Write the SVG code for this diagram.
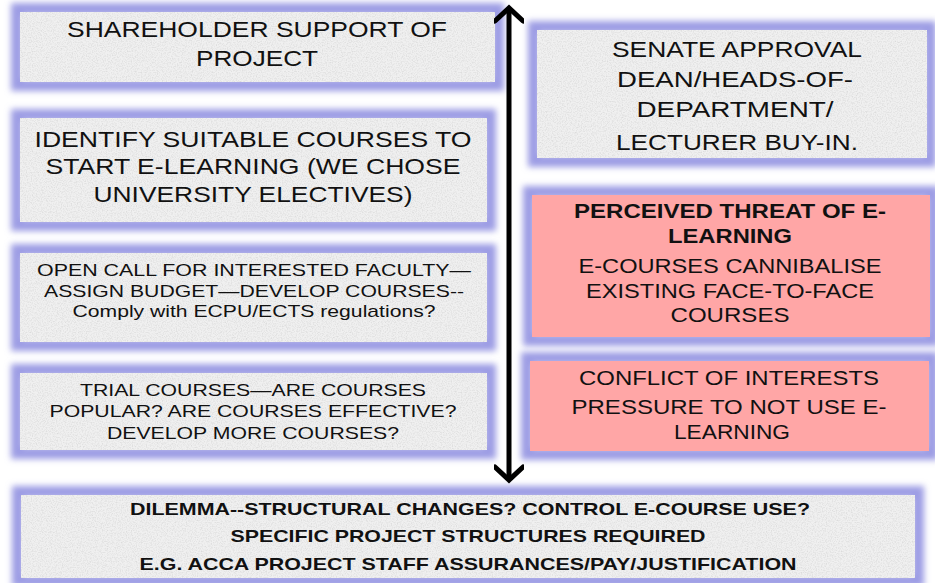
<svg xmlns="http://www.w3.org/2000/svg" width="935" height="583" viewBox="0 0 935 583">
<defs>
<filter id="glow" x="-10%" y="-30%" width="120%" height="160%">
<feGaussianBlur stdDeviation="3"/>
</filter>
<filter id="speckle" x="0" y="0" width="100%" height="100%">
<feTurbulence type="fractalNoise" baseFrequency="0.8" numOctaves="2" seed="3" result="n"/>
<feColorMatrix in="n" type="matrix" values="0 0 0 0 0.6  0 0 0 0 0.6  0 0 0 0 0.6  0 0 0 -2.2 1.3" result="m"/>
<feComposite in="m" in2="SourceGraphic" operator="in"/>
</filter>
<marker id="chev" viewBox="0 0 30 30" refX="24" refY="15" markerWidth="30" markerHeight="30" markerUnits="userSpaceOnUse" orient="auto-start-reverse">
<path d="M11,1 L24,15 L11,29" fill="none" stroke="#000" stroke-width="5" stroke-linejoin="miter" stroke-linecap="round"/>
</marker>
</defs>
<style>
.glow{fill:none;stroke:#9c9ce4;stroke-width:12;filter:url(#glow)}
.grey{fill:#f0f0f0}
.pink{fill:#ffa6a6}
.tex{fill:#fff;filter:url(#speckle);opacity:0.55}
text{font-family:"Liberation Sans",Arial,sans-serif;fill:#111;text-anchor:middle}
.big{font-size:22px}
.mid{font-size:20px}
.sm{font-size:17px}
.b{font-weight:bold}
.bot{font-size:17px;font-weight:bold}
</style>
<rect width="935" height="583" fill="#fff"/>

<g id="shareholder">
<rect class="glow" x="17" y="9" width="481" height="76"/>
<rect class="grey" x="20" y="12" width="475" height="70"/>
<rect class="tex" x="20" y="12" width="475" height="70"/>
<text class="big" x="257" y="37" textLength="380" lengthAdjust="spacingAndGlyphs">SHAREHOLDER SUPPORT OF</text>
<text class="big" x="257" y="66" textLength="122" lengthAdjust="spacingAndGlyphs">PROJECT</text>
</g>

<g id="identify">
<rect class="glow" x="17" y="115" width="473" height="110"/>
<rect class="grey" x="20" y="118" width="467" height="104"/>
<rect class="tex" x="20" y="118" width="467" height="104"/>
<text class="big" x="253" y="147" textLength="437" lengthAdjust="spacingAndGlyphs">IDENTIFY SUITABLE COURSES TO</text>
<text class="big" x="253" y="174" textLength="415" lengthAdjust="spacingAndGlyphs">START E-LEARNING (WE CHOSE</text>
<text class="big" x="253" y="202" textLength="319" lengthAdjust="spacingAndGlyphs">UNIVERSITY ELECTIVES)</text>
</g>

<g id="opencall">
<rect class="glow" x="17" y="250" width="473" height="95"/>
<rect class="grey" x="20" y="253" width="467" height="89"/>
<rect class="tex" x="20" y="253" width="467" height="89"/>
<text class="sm" x="254" y="276" textLength="434" lengthAdjust="spacingAndGlyphs">OPEN CALL FOR INTERESTED FACULTY—</text>
<text class="sm" x="254" y="297" textLength="420" lengthAdjust="spacingAndGlyphs">ASSIGN BUDGET—DEVELOP COURSES--</text>
<text class="sm" x="254" y="317" textLength="363" lengthAdjust="spacingAndGlyphs">Comply with ECPU/ECTS regulations?</text>
</g>

<g id="trial">
<rect class="glow" x="17" y="370" width="473" height="83"/>
<rect class="grey" x="20" y="373" width="467" height="77"/>
<rect class="tex" x="20" y="373" width="467" height="77"/>
<text class="sm" x="253" y="396" textLength="346" lengthAdjust="spacingAndGlyphs">TRIAL COURSES—ARE COURSES</text>
<text class="sm" x="253" y="417" textLength="407" lengthAdjust="spacingAndGlyphs">POPULAR? ARE COURSES EFFECTIVE?</text>
<text class="sm" x="253" y="439" textLength="292" lengthAdjust="spacingAndGlyphs">DEVELOP MORE COURSES?</text>
</g>

<g id="senate">
<rect class="glow" x="534" y="27" width="396" height="134"/>
<rect class="grey" x="537" y="30" width="390" height="128"/>
<rect class="tex" x="537" y="30" width="390" height="128"/>
<text class="big" x="737" y="57" textLength="250" lengthAdjust="spacingAndGlyphs">SENATE APPROVAL</text>
<text class="big" x="735" y="87" textLength="236" lengthAdjust="spacingAndGlyphs">DEAN/HEADS-OF-</text>
<text class="big" x="735" y="117" textLength="197" lengthAdjust="spacingAndGlyphs">DEPARTMENT/</text>
<text class="big" x="737" y="150" textLength="242" lengthAdjust="spacingAndGlyphs">LECTURER BUY-IN.</text>
</g>

<g id="threat">
<rect class="glow" x="529" y="192" width="404" height="148"/>
<rect class="pink" x="532" y="195" width="398" height="142"/>
<text class="mid b" x="730" y="218" textLength="312" lengthAdjust="spacingAndGlyphs">PERCEIVED THREAT OF E-</text>
<text class="mid b" x="730" y="243" textLength="124" lengthAdjust="spacingAndGlyphs">LEARNING</text>
<text class="mid" x="730" y="273" textLength="303" lengthAdjust="spacingAndGlyphs">E-COURSES CANNIBALISE</text>
<text class="mid" x="730" y="298" textLength="288" lengthAdjust="spacingAndGlyphs">EXISTING FACE-TO-FACE</text>
<text class="mid" x="730" y="322" textLength="119" lengthAdjust="spacingAndGlyphs">COURSES</text>
</g>

<g id="conflict">
<rect class="glow" x="527" y="358" width="405" height="96"/>
<rect class="pink" x="530" y="361" width="399" height="90"/>
<text class="mid" x="729" y="385" textLength="300" lengthAdjust="spacingAndGlyphs">CONFLICT OF INTERESTS</text>
<text class="mid" x="729" y="414" textLength="315" lengthAdjust="spacingAndGlyphs">PRESSURE TO NOT USE E-</text>
<text class="mid" x="732" y="439" textLength="116" lengthAdjust="spacingAndGlyphs">LEARNING</text>
</g>

<g id="dilemma">
<rect class="glow" x="18" y="492" width="900" height="89"/>
<rect class="grey" x="21" y="495" width="894" height="83"/>
<rect class="tex" x="21" y="495" width="894" height="83"/>
<text class="bot" x="470" y="515" textLength="680" lengthAdjust="spacingAndGlyphs">DILEMMA--STRUCTURAL CHANGES? CONTROL E-COURSE USE?</text>
<text class="bot" x="468" y="542" textLength="475" lengthAdjust="spacingAndGlyphs">SPECIFIC PROJECT STRUCTURES REQUIRED</text>
<text class="bot" x="468" y="570" textLength="657" lengthAdjust="spacingAndGlyphs">E.G. ACCA PROJECT STAFF ASSURANCES/PAY/JUSTIFICATION</text>
</g>

<g id="connectors">
<line x1="509" y1="8" x2="509" y2="480" stroke="#000" stroke-width="5" marker-start="url(#chev)" marker-end="url(#chev)"/>
</g>
</svg>
